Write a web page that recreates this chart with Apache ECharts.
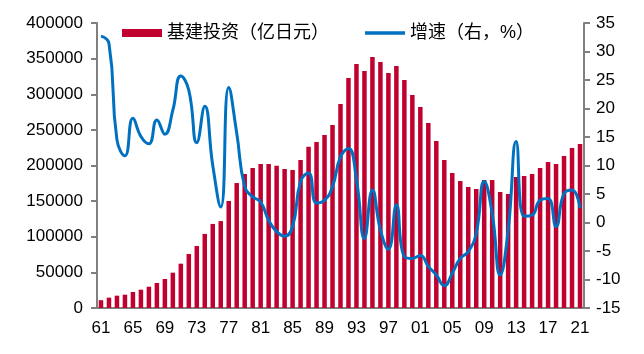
<!DOCTYPE html>
<html>
<head>
<meta charset="utf-8">
<script src="https://cdn.jsdelivr.net/npm/echarts@6/dist/echarts.min.js"></script>
<style>
html,body{margin:0;padding:0;background:#fff;}
#chart{width:644px;height:354px;}
</style>
</head>
<body>
<div id="chart"></div>
<script>
const years = ['61','62','63','64','65','66','67','68','69','70','71','72','73','74','75','76','77','78','79','80',
  '81','82','83','84','85','86','87','88','89','90','91','92','93','94','95','96','97','98','99','00',
  '01','02','03','04','05','06','07','08','09','10','11','12','13','14','15','16','17','18','19','20','21'];
const investment = [11000,14500,17300,18700,22500,25700,29900,35100,40700,49600,
  62200,75800,87000,104000,118000,122000,150200,175400,188000,196500,
  202100,202100,199700,195100,193700,207700,226400,233000,242800,256800,
  286300,322800,342500,332600,352300,345300,329800,339600,320000,299000,
  282100,259600,234400,207700,189500,178200,169800,167000,179600,179600,
  162800,160000,183800,185300,188000,196500,204900,202100,213300,224600,230200];
const growth = [32.7,31.4,14.5,11.7,18.3,15.1,13.8,18.0,15.5,19.7,
  25.7,23.2,14.0,20.4,10.0,2.7,23.7,15.7,6.3,4.5,
  3.6,0.4,-1.6,-2.4,-0.7,7.2,8.7,3.4,3.9,6.3,
  11.5,13.0,7.5,-2.8,5.7,-1.3,-4.7,3.1,-6.0,-6.3,
  -5.8,-7.7,-9.2,-11.1,-8.9,-6.3,-5.1,-1.9,7.2,1.6,
  -9.2,-1.3,14.2,1.1,1.3,3.9,4.2,-0.7,5.1,5.7,2.5];
const leftTicks = {min:0, max:400000, interval:50000};
const rightTicks = {min:-15, max:35, interval:5};

const font = 'Arial, "Liberation Sans", "Noto Sans CJK SC", sans-serif';
const axisGray = '#808080';
const chart = echarts.init(document.getElementById('chart'), null, {renderer:'canvas'});
chart.setOption({
  animation:false,
  textStyle:{fontFamily:font},
  legend:{
    left:117, top:19,
    itemWidth:40, itemHeight:8, itemGap:36,
    symbolKeepAspect:true,
    textStyle:{fontSize:18, color:'#000', fontFamily:font},
    data:[
      {name:'基建投资（亿日元）', icon:'rect'},
      {name:'增速（右，%）', icon:'path://M0,0 L40,0 L40,3.5 L0,3.5 Z', itemStyle:{color:'#0070C0'}}
    ]
  },
  grid:{left:97, right:60, top:23, bottom:46, containLabel:false},
  xAxis:{
    type:'category',
    data:years,
    boundaryGap:true,
    axisLine:{lineStyle:{color:axisGray, width:2}},
    axisTick:{interval:3, length:6, lineStyle:{color:axisGray, width:2}},
    axisLabel:{interval:3, color:'#000', fontSize:17, margin:12, fontFamily:font}
  },
  yAxis:[
    {
      type:'value', position:'left',
      min:leftTicks.min, max:leftTicks.max, interval:leftTicks.interval,
      splitLine:{show:false},
      axisLine:{show:true, lineStyle:{color:axisGray, width:2}},
      axisTick:{show:true, length:6, lineStyle:{color:axisGray, width:2}},
      axisLabel:{color:'#000', fontSize:17, margin:14, fontFamily:font, formatter:v => String(v)}
    },
    {
      type:'value', position:'right',
      min:rightTicks.min, max:rightTicks.max, interval:rightTicks.interval,
      splitLine:{show:false},
      axisLine:{show:true, lineStyle:{color:axisGray, width:2}},
      axisTick:{show:true, length:6, lineStyle:{color:axisGray, width:2}},
      axisLabel:{color:'#000', fontSize:17, margin:12, fontFamily:font, formatter:v => String(v)}
    }
  ],
  series:[
    {
      name:'基建投资（亿日元）',
      type:'bar',
      yAxisIndex:0,
      data:investment,
      barWidth:4.5,
      itemStyle:{color:'#C0002F'}
    },
    {
      name:'增速（右，%）',
      type:'line',
      yAxisIndex:1,
      data:growth,
      smooth:0.5,
      symbol:'none',
      lineStyle:{color:'#0070C0', width:3},
      itemStyle:{color:'#0070C0'}
    }
  ]
});
</script>
</body>
</html>
